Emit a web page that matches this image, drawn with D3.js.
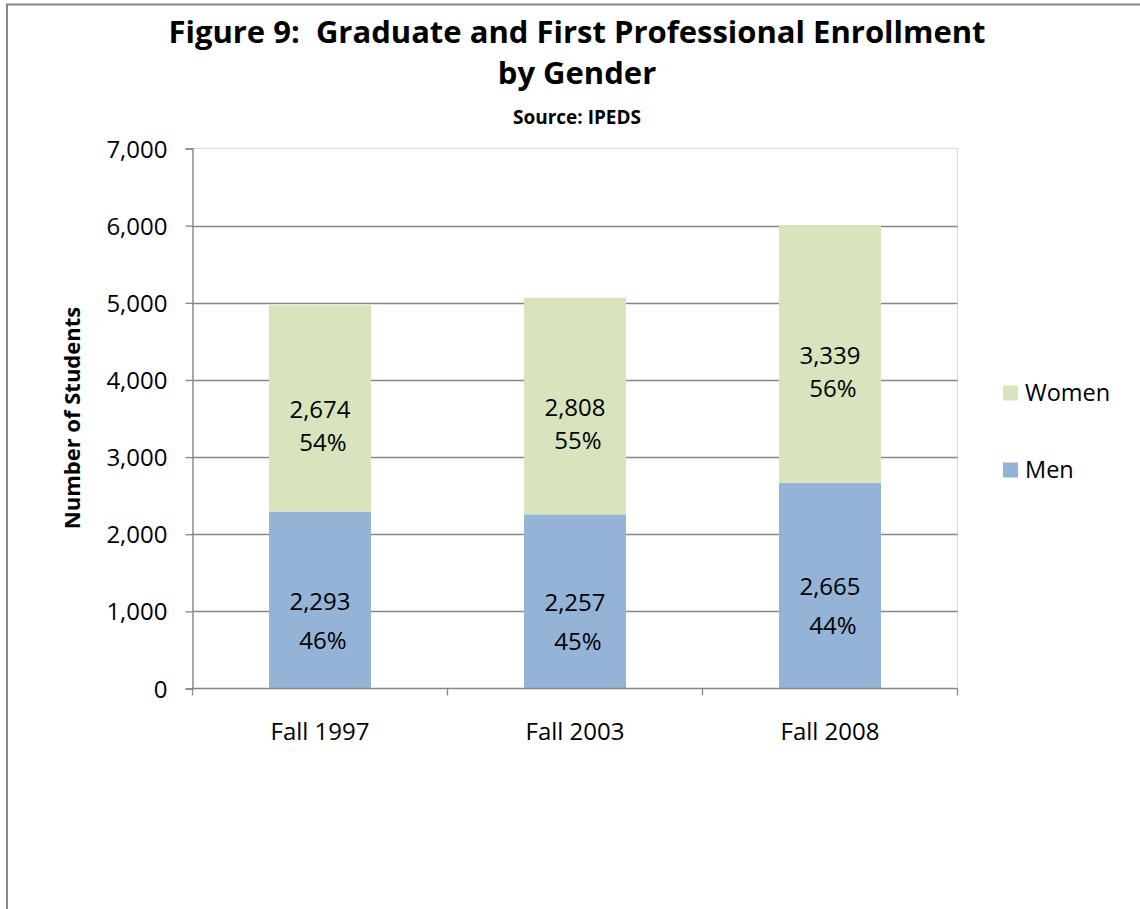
<!DOCTYPE html>
<html>
<head>
<meta charset="utf-8">
<script src="https://cdn.jsdelivr.net/npm/d3@7"></script>
<style>
  html, body { margin: 0; padding: 0; background: #fff; }
  svg { display: block; }
  text { font-family: "Open Sans", "Noto Sans", sans-serif; fill: #000; }
</style>
</head>
<body>
<svg id="chart" width="1140" height="909"></svg>
<script>
// Enrollment counts by term
const terms = ["Fall 1997", "Fall 2003", "Fall 2008"];
const men = [2293, 2257, 2665];
const women = [2674, 2808, 3339];
const menShare = ["46%", "45%", "44%"];
const womenShare = ["54%", "55%", "56%"];
const yTicks = [0, 1000, 2000, 3000, 4000, 5000, 6000, 7000];
const seriesNames = ["Women", "Men"];

const colors = { Men: "#95B3D7", Women: "#D7E4BD" };
const gridColor = "#868686";
const labelSize = "24px";

const svg = d3.select("#chart");

// Outer chart frame (runs past the right and bottom edges of the page)
svg.append("rect")
  .attr("x", 7).attr("y", 4.5)
  .attr("width", 1200).attr("height", 1000)
  .attr("fill", "none").attr("stroke", "#878787").attr("stroke-width", 2);

const plot = { left: 192.5, right: 957.5, top: 148.5, bottom: 688.5 };

const x = d3.scaleBand()
  .domain(terms)
  .range([plot.left, plot.right])
  .paddingInner(0.6)
  .paddingOuter(0.3);

const y = d3.scaleLinear()
  .domain([0, 7000])
  .range([plot.bottom, plot.top]);

// Plot area border (light)
svg.append("rect")
  .attr("x", plot.left).attr("y", plot.top)
  .attr("width", plot.right - plot.left).attr("height", plot.bottom - plot.top)
  .attr("fill", "none").attr("stroke", "#d9d9d9").attr("stroke-width", 1);

// Horizontal gridlines
svg.append("g")
  .selectAll("line")
  .data(yTicks.filter(t => t > 0 && t < 7000))
  .join("line")
  .attr("x1", plot.left).attr("x2", plot.right)
  .attr("y1", d => Math.round(y(d)) + 0.5).attr("y2", d => Math.round(y(d)) + 0.5)
  .attr("stroke", gridColor).attr("stroke-width", 1.3);

// Stacked data
const rows = terms.map((t, i) => ({ term: t, Men: men[i], Women: women[i] }));
const stack = d3.stack().keys(["Men", "Women"])(rows);

svg.append("g")
  .selectAll("g")
  .data(stack)
  .join("g")
  .attr("fill", s => colors[s.key])
  .selectAll("rect")
  .data(s => s)
  .join("rect")
  .attr("x", d => x(d.data.term))
  .attr("width", x.bandwidth())
  .attr("y", d => y(d[1]))
  .attr("height", d => y(d[0]) - y(d[1]));

// Y axis
const yAxis = d3.axisLeft(y)
  .tickValues(yTicks)
  .tickFormat(d3.format(","))
  .tickSize(7)
  .tickPadding(18);

const gy = svg.append("g")
  .attr("transform", `translate(${plot.left},0)`)
  .call(yAxis);
gy.select(".domain").attr("stroke", gridColor).attr("stroke-width", 1.3);
gy.selectAll(".tick line").attr("stroke", gridColor).attr("stroke-width", 1.3);
gy.selectAll(".tick text")
  .style("font-size", labelSize)
  .attr("dy", "0.36em");

// X axis with ticks at category boundaries
const gx = svg.append("g")
  .attr("transform", `translate(0,${plot.bottom})`);
gx.append("line")
  .attr("x1", plot.left).attr("x2", plot.right)
  .attr("stroke", gridColor).attr("stroke-width", 1.3);
const step = x.step();
const bounds = d3.range(terms.length + 1).map(i => x(terms[0]) - x.paddingOuter() * step + i * step);
gx.selectAll("line.tk")
  .data(bounds)
  .join("line")
  .attr("class", "tk")
  .attr("x1", d => d).attr("x2", d => d)
  .attr("y1", 0).attr("y2", 7)
  .attr("stroke", gridColor).attr("stroke-width", 1.3);
gx.selectAll("text")
  .data(terms)
  .join("text")
  .attr("x", d => x(d) + x.bandwidth() / 2)
  .attr("y", 43)
  .attr("dy", "0.36em")
  .attr("text-anchor", "middle")
  .style("font-size", labelSize)
  .text(d => d);

// Value labels: count on the first line, share on the second
const labels = [];
stack.forEach(s => {
  s.forEach((d, i) => {
    const mid = (y(d[0]) + y(d[1])) / 2;
    const isMen = s.key === "Men";
    labels.push({ cx: x(d.data.term) + x.bandwidth() / 2, cy: mid + 1,
                  text: d3.format(",")(d.data[s.key]) });
    labels.push({ cx: x(d.data.term) + x.bandwidth() / 2 + 3, cy: mid + (isMen ? 40 : 34),
                  text: isMen ? menShare[i] : womenShare[i] });
  });
});
svg.append("g")
  .selectAll("text")
  .data(labels)
  .join("text")
  .attr("x", d => d.cx)
  .attr("y", d => d.cy)
  .attr("dy", "0.36em")
  .attr("text-anchor", "middle")
  .style("font-size", labelSize)
  .text(d => d.text);

// Legend
const legend = svg.append("g");
seriesNames.forEach((name, i) => {
  const ly = 393 + i * 77;
  legend.append("rect")
    .attr("x", 1003).attr("y", ly - 7.5)
    .attr("width", 15).attr("height", 15)
    .attr("fill", colors[name]);
  legend.append("text")
    .attr("x", 1025).attr("y", ly)
    .attr("dy", "0.36em")
    .style("font-size", "23.5px")
    .text(name);
});

// Titles
svg.append("text")
  .attr("x", 577).attr("y", 43)
  .attr("text-anchor", "middle")
  .style("font-size", "31px").style("font-weight", "bold")
  .attr("xml:space", "preserve")
  .text("Figure 9:  Graduate and First Professional Enrollment");
svg.append("text")
  .attr("x", 577).attr("y", 84)
  .attr("text-anchor", "middle")
  .style("font-size", "31px").style("font-weight", "bold")
  .text("by Gender");
svg.append("text")
  .attr("x", 577).attr("y", 124)
  .attr("text-anchor", "middle")
  .style("font-size", "19px").style("font-weight", "bold")
  .text("Source: IPEDS");

svg.append("text")
  .attr("transform", "translate(72,418) rotate(-90)")
  .attr("text-anchor", "middle")
  .attr("dy", "0.36em")
  .style("font-size", "22px").style("font-weight", "bold")
  .text("Number of Students");
</script>
</body>
</html>
